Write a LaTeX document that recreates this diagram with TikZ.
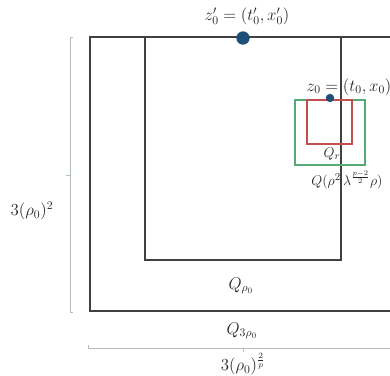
\documentclass[tikz,border=0pt]{standalone}
\begin{document}
\begin{tikzpicture}[x=0.03cm,y=-0.03cm,
  frame/.style={draw=black!75,line width=1.2pt},
  brk/.style={draw=black!20!cyan!20!gray!60,line width=0.6pt},
  lbl/.style={font=\fontsize{14}{16}\selectfont,inner sep=1pt,text=black!85},
  slbl/.style={font=\fontsize{12.5}{14}\selectfont,inner sep=1pt,text=black!85},
  dotc/.style={fill=dotblue,draw=none,circle}]
\definecolor{dotblue}{HTML}{1F4E79}
\definecolor{boxgreen}{HTML}{55AA78}
\definecolor{boxred}{HTML}{C0504D}
\useasboundingbox (0,0) rectangle (390,376);
\clip (0,0) rectangle (390,376);
% outer and inner cylinders
\draw[frame] (400,37) -- (90,37) -- (90,311) -- (400,311);
\draw[frame,line width=1.1pt] (145,37) -- (145,260) -- (341,260) -- (341,37);
% small cylinders
\draw[draw=boxgreen,line width=1pt] (295,100) rectangle (365,165);
\draw[draw=boxred,line width=1pt] (307,100) rectangle (352,144);
% points
\node[dotc,minimum size=0.4cm,inner sep=0pt] (zp) at (243,38) {};
\node[dotc,minimum size=0.25cm,inner sep=0pt] (z) at (330,98) {};
% labels
\node[lbl] (zpl) at (247,16) {$z_0' = (t_0', x_0')$};
\node[lbl] (zl) at (349,87) {$z_0 = (t_0, x_0)$};
\node[slbl] (qr) at (332,154) {$Q_r$};
\node[slbl] (qrho) at (347,180) {$Q(\rho^2\,\lambda^{\frac{p-2}{2}}\rho)$};
\node[lbl] (q0) at (241,286) {$Q_{\rho_0}$};
\node[lbl] (q3) at (242,331) {$Q_{3\rho_0}$};
\node[lbl] (hl) at (32,211) {$3(\rho_0)^2$};
\node[lbl] (wl) at (243,364) {$3(\rho_0)^{\frac{2}{p}}$};
% brackets
\draw[brk] (73,37) -- (70,37) -- (70,312) -- (73,312);
\draw[brk] (70,175) -- (66,175);
\draw[brk] (88,345) -- (88,348) -- (400,348);
\draw[brk] (243,348) -- (243,352);
\end{tikzpicture}
\end{document}
